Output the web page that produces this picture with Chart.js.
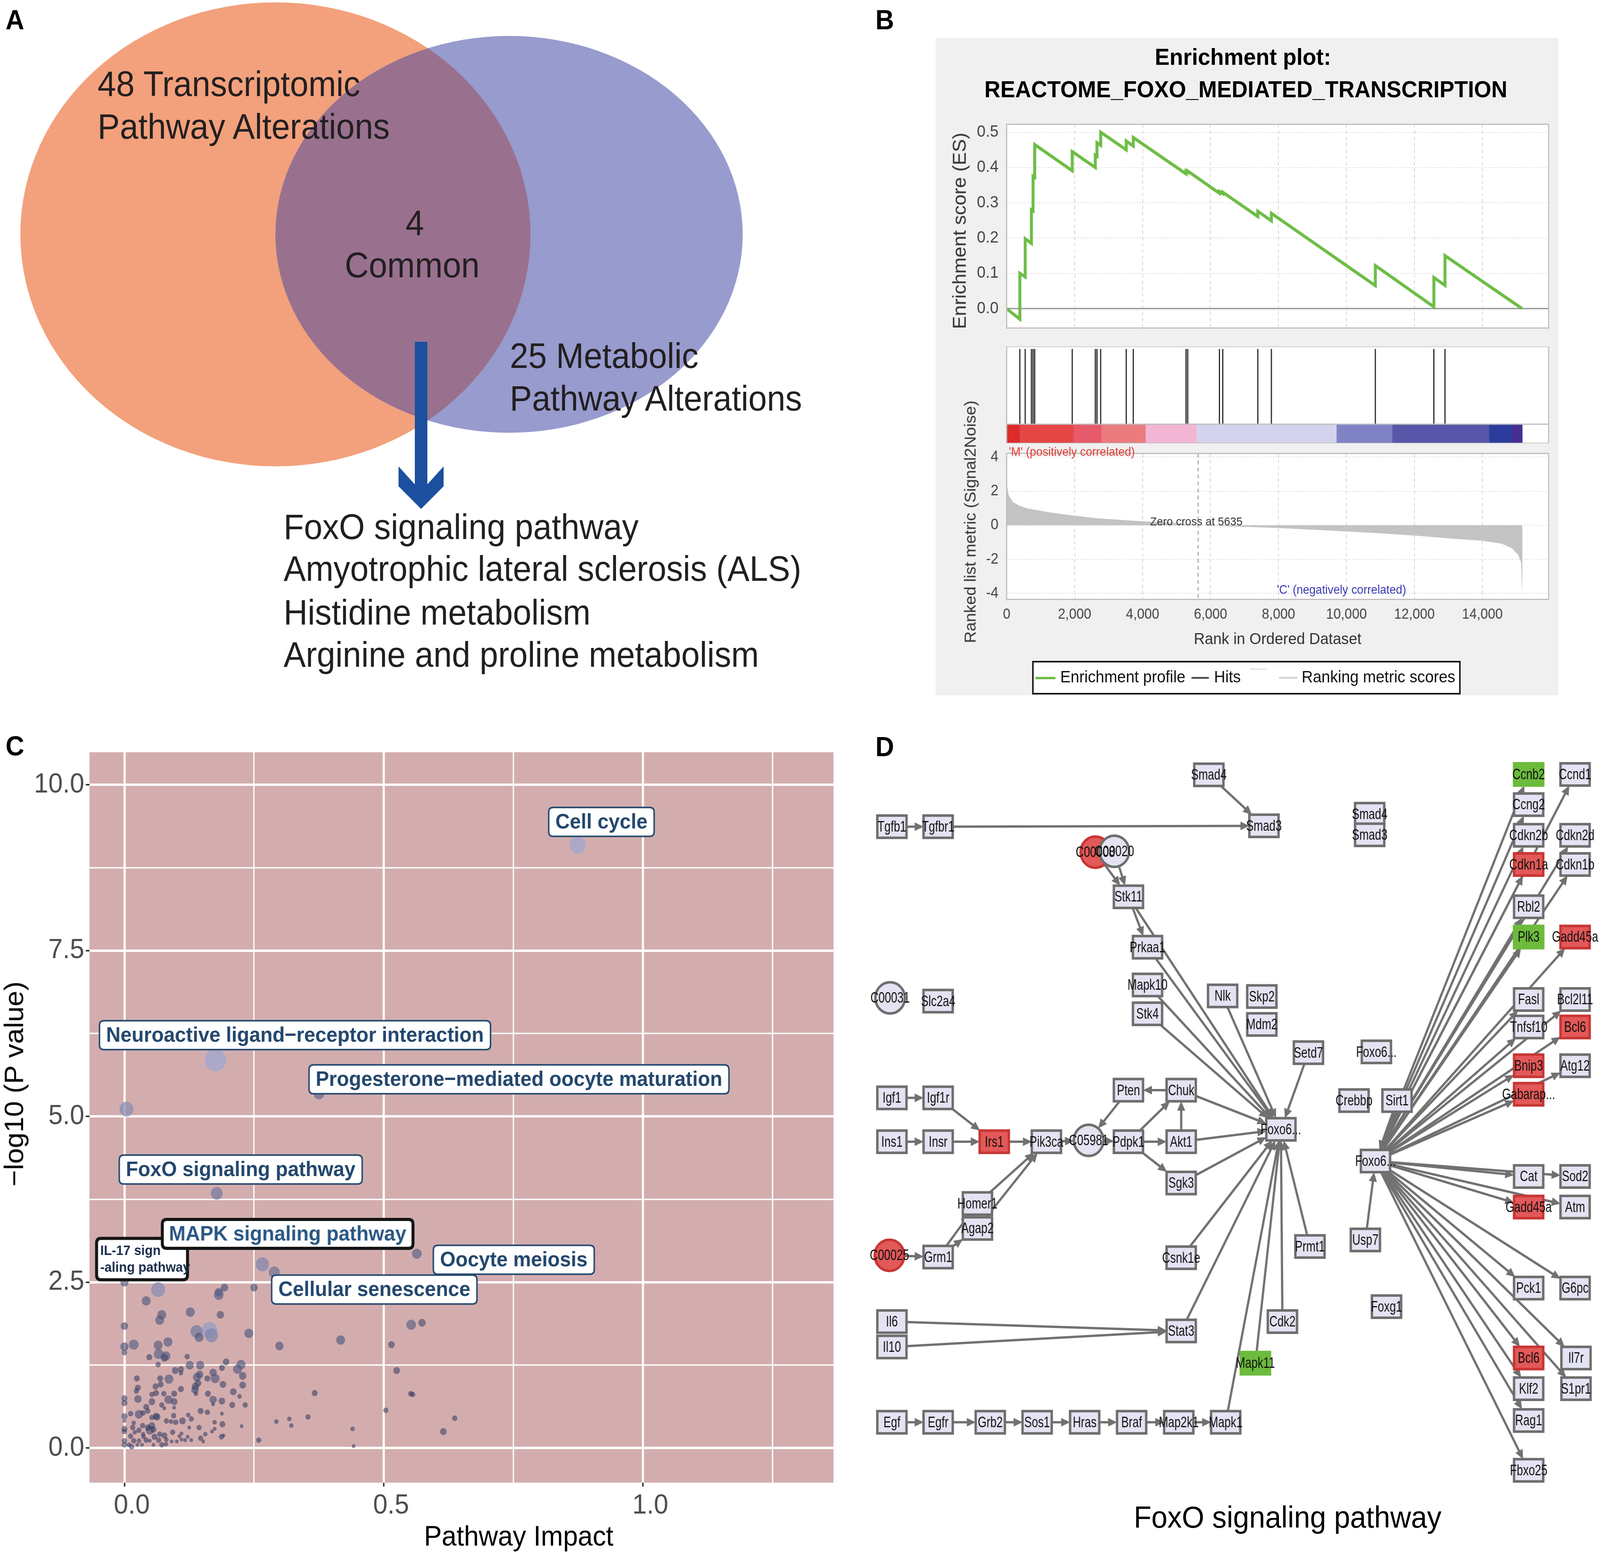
<!DOCTYPE html>
<html>
<head>
<meta charset="utf-8">
<title>FoxO pathway figure</title>
<script src="https://cdn.jsdelivr.net/npm/chart.js@4.4.1/dist/chart.umd.min.js"></script>
<style>
  html, body { margin: 0; padding: 0; background: #fff; overflow: hidden; }
  #page { position: relative; width: 4328px; height: 3976px; overflow: hidden; transform-origin: 0 0;
          font-family: "Liberation Sans", Arial, Helvetica, sans-serif; color: #231f20; }
  #page canvas { position: absolute; }
  .t { position: absolute; white-space: nowrap; line-height: 1; }
  .sw { position: absolute; }
</style>
</head>
<body>
<div id="page"></div>
<script>
// ===== Data: panel A (Venn) =====
const vennCounts = [48, 25];
const vennCommon = 4;
const commonPathways = ['FoxO signaling pathway', 'Amyotrophic lateral sclerosis (ALS)',
                        'Histidine metabolism', 'Arginine and proline metabolism'];

// ===== Data: panel B (GSEA) =====
const esRank  = [0, 388, 388, 546, 546, 728, 728, 777, 777, 825, 825, 1930, 1930, 2609, 2609,
                 2658, 2658, 2767, 2767, 3519, 3519, 3726, 3726, 5279, 5279, 5328, 5328, 6262,
                 6262, 6359, 6359, 7391, 7391, 7791, 7791, 10850, 10850, 12573, 12573, 12900,
                 12900, 15170];
const esScore = [0, -0.03, 0.10, 0.09, 0.198, 0.185, 0.28, 0.277, 0.375, 0.372, 0.465, 0.391,
                 0.445, 0.40, 0.435, 0.432, 0.47, 0.463, 0.50, 0.45, 0.475, 0.461, 0.485, 0.382,
                 0.39, 0.387, 0.39, 0.327, 0.332, 0.326, 0.33, 0.261, 0.276, 0.249, 0.27, 0.065,
                 0.122, 0.005, 0.088, 0.066, 0.15, 0];
const hitRanks = [388, 546, 728, 777, 825, 1930, 2609, 2658, 2767, 3519, 3726, 5279, 5328,
                  6262, 6359, 7391, 7791, 10850, 12573, 12900];
const rankedX = [0, 61, 182, 364, 607, 971, 1214, 1967, 2671, 3970, 4857, 5635, 7977, 9714,
                 10928, 12142, 13113, 14000, 14570, 14874, 15056, 15141, 15178];
const rankedY = [2.48, 1.76, 1.36, 1.16, 0.99, 0.86, 0.77, 0.57, 0.41, 0.24, 0.15, 0, -0.16,
                 -0.33, -0.46, -0.62, -0.78, -0.91, -1.08, -1.35, -1.74, -2.2, -4.05];
const zeroCross = 5635;
const heatStart = [0, 389, 1966, 2793, 4092, 5585, 9713, 11353, 14206, 14874];
const heatEnd   = [389, 1966, 2793, 4092, 5585, 9713, 11353, 14206, 14874, 15178];
const xTicksGsea = [0, 2000, 4000, 6000, 8000, 10000, 12000, 14000];

// ===== Data: panel C (pathway impact) =====
const impactX = [
  0.874,0.1755,0.004,0.375,0.178,0.564,0.266,0.289,0,0.065,0.042,0.193,
  0.182,0.182,0.25,0.127,0.185,0.072,0.068,0,0.164,0.168,0.139,0.144,
  0.24,0.299,0.417,0.553,0.574,0.515,0.525,0,0,0.018,0.065,0.084,
  0.066,0.08,0.077,0.048,0.121,0.065,0.126,0.146,0.196,0.225,0.218,0.188,
  0.228,0.098,0.109,0.109,0.145,0.14,0.171,0.175,0.16,0.086,0.024,0.069,
  0.19,0.228,0.07,0.142,0.137,0.136,0.06,0.026,0.023,0.109,0.21,0.138,
  0.161,0.222,0.096,0.076,0.053,0.061,0.367,0.552,0.556,0.026,0,0,
  0.085,0.096,0.053,0.042,0.171,0.188,0.208,0.233,0.171,0.096,0.072,0.077,
  0.504,0.028,0.012,0,0,0.036,0.045,0.061,0.053,0.095,0.081,0.09,
  0.099,0.112,0.123,0.129,0.147,0.16,0.188,0.174,0.189,0.226,0.293,0.318,
  0.322,0.354,0.637,0.615,0.44,0.442,0.125,0.144,0.169,0.174,0.156,0.187,
  0.191,0.147,0.152,0.129,0.117,0.11,0.259,0,0,0,0,0.014,
  0.009,0.018,0.018,0.016,0.02,0.028,0.035,0.036,0.028,0.034,0.042,0.049,
  0.053,0.045,0.058,0.056,0.063,0.066,0.072,0.08,0.077,0.068,0.081,0.093,
  0.101,0.091,0.056,0.049,0.037,0.025,0.106,0.11,0.122,0.012];
const minusLogP = [
  9.09,5.85,5.11,5.34,3.84,2.93,2.77,2.65,2.50,2.39,2.22,2.42,
  2.35,2.31,2.42,2.05,2.01,2.01,1.93,1.84,1.78,1.70,1.76,1.67,
  1.73,1.54,1.63,1.86,1.89,1.56,1.17,1.53,1.44,1.56,1.55,1.60,
  1.42,1.39,1.36,1.37,1.38,1.26,1.25,1.25,1.30,1.26,1.19,1.21,
  1.09,1.17,1.19,1.13,1.11,1.07,1.14,1.05,1.05,1.04,1.05,1.05,
  0.96,0.95,0.96,0.98,0.93,0.88,0.93,0.91,0.86,0.89,0.85,0.82,
  0.82,0.78,0.82,0.82,0.81,0.83,0.83,0.82,0.81,0.74,0.75,0.68,
  0.73,0.70,0.70,0.62,0.73,0.71,0.65,0.65,0.66,0.61,0.65,0.60,
  0.57,0.51,0.52,0.48,0.41,0.53,0.56,0.48,0.46,0.49,0.41,0.40,
  0.39,0.41,0.50,0.44,0.56,0.54,0.52,0.39,0.36,0.33,0.40,0.44,
  0.34,0.47,0.45,0.25,0.29,0.03,0.31,0.31,0.25,0.29,0.21,0.17,
  0.19,0.15,0.10,0.12,0.12,0.13,0.12,0.29,0.25,0.11,0.05,0.02,
  0.05,0.11,0.38,0.31,0.24,0.27,0.34,0.21,0.11,0.05,0.12,0.27,
  0.34,0.31,0.17,0.28,0.47,0.12,0.05,0.06,0.19,0.21,0.13,0.24,
  0.10,0.10,0.05,0.11,0.17,0.05,0.18,0.22,0.17,0.18];
const bubbleR = [
  22,29,19,14,16,13,18,15,11,19,12,10,
  11,13,10,12,10,12,12,10,21,18,16,12,
  12,11,12,13,10,9,9,11,7,13,12,12,
  13,12,10,8,7,7,11,11,9,12,12,8,
  10,9,8,6,10,11,10,12,8,12,8,8,
  9,9,8,9,10,10,8,8,7,8,9,6,
  8,6,8,7,7,8,8,7,7,10,8,8,
  11,9,9,8,10,9,8,7,5,5,7,5,
  7,11,7,8,5,7,7,9,7,7,7,6,
  7,9,6,7,8,7,5,6,8,5,6,6,
  6,7,7,9,6,5,5,7,5,5,6,7,
  5,7,5,5,5,5,7,8,7,7,7,7,
  6,7,6,7,6,7,7,6,6,5,7,11,
  9,8,8,8,9,7,7,6,8,7,6,7,
  5,5,5,5,6,5,5,5,5,7];
const pathwayLabels = ['IL-17 sign\n-aling pathway', 'Cell cycle',
  'Neuroactive ligand\u2212receptor interaction', 'Progesterone\u2212mediated oocyte maturation',
  'FoxO signaling pathway', 'MAPK signaling pathway', 'Oocyte meiosis', 'Cellular senescence'];
const labelAtX = [0.034, 0.920, 0.329, 0.761, 0.2243, 0.3148, 0.751, 0.482];
const labelAtY = [2.85, 9.44, 6.225, 5.56, 4.20, 3.23, 2.84, 2.39];

// ===== Data: panel D (FoxO network) =====
const nodeId = [
  'tgfb1','tgfbr1','smad4a','smad3a','c00008','c00020','stk11','prkaa1',
  'mapk10','stk4','nlk','skp2','mdm2','setd7','c00031','slc2a4',
  'igf1','igf1r','pten','chuk','foxoA','ins1','insr','irs1',
  'pik3ca','c05981','pdpk1','akt1','sgk3','homer1','agap2','c00025',
  'grm1','csnk1e','prmt1','il6','il10','stat3','cdk2','mapk11',
  'egf','egfr','grb2','sos1','hras','braf','map2k1','mapk1',
  'ccnb2','ccnd1','smad4b','smad3b','ccng2','cdkn2b','cdkn2d','cdkn1a',
  'cdkn1b','rbl2','plk3','gadd45aA','fasl','bcl2l11','tnfsf10','bcl6A',
  'foxoB','bnip3','atg12','gabarap','crebbp','sirt1','foxoC','cat',
  'sod2','gadd45aB','atm','usp7','pck1','g6pc','foxg1','bcl6B',
  'il7r','klf2','s1pr1','rag1','fbxo25'];
const nodeLabel = [
  'Tgfb1','Tgfbr1','Smad4','Smad3','C00008','C00020','Stk11','Prkaa1',
  'Mapk10','Stk4','Nlk','Skp2','Mdm2','Setd7','C00031','Slc2a4',
  'Igf1','Igf1r','Pten','Chuk','Foxo6...','Ins1','Insr','Irs1',
  'Pik3ca','C05981','Pdpk1','Akt1','Sgk3','Homer1','Agap2','C00025',
  'Grm1','Csnk1e','Prmt1','Il6','Il10','Stat3','Cdk2','Mapk11',
  'Egf','Egfr','Grb2','Sos1','Hras','Braf','Map2k1','Mapk1',
  'Ccnb2','Ccnd1','Smad4','Smad3','Ccng2','Cdkn2b','Cdkn2d','Cdkn1a',
  'Cdkn1b','Rbl2','Plk3','Gadd45a','Fasl','Bcl2l11','Tnfsf10','Bcl6',
  'Foxo6...','Bnip3','Atg12','Gabarap...','Crebbp','Sirt1','Foxo6...','Cat',
  'Sod2','Gadd45a','Atm','Usp7','Pck1','G6pc','Foxg1','Bcl6',
  'Il7r','Klf2','S1pr1','Rag1','Fbxo25'];
const nodeX = [
  874.2,919.5,1184.8,1238.8,1073.6,1092.2,1106,1124.7,
  1124.7,1124.7,1198.3,1236.7,1236.7,1282.4,872.4,919.5,
  874.2,919.5,1106,1157.7,1255.4,874.2,919.5,974.5,
  1025.6,1067,1106,1157.7,1157.7,958,958,871.8,
  919.5,1157.7,1283.9,874.2,874.2,1157.7,1256.9,1230.4,
  874.2,919.5,970.6,1016.5,1063.1,1109.1,1155.3,1201.3,
  1498.2,1543.7,1342.4,1342.4,1498.2,1498.2,1543.7,1498.2,
  1543.7,1498.2,1498.2,1543.7,1498.2,1543.7,1498.2,1543.7,
  1349,1498.2,1543.7,1498.2,1327.1,1369.2,1348.1,1498.2,
  1543.7,1498.2,1543.7,1338.2,1498.2,1543.7,1358.9,1498.2,
  1544.6,1498.2,1544.6,1498.2,1498.2];
const nodeY = [
  766.8,766.8,718.7,766,790.4,789.6,831.8,878.6,
  913.6,940.3,923.8,924.3,950.2,976.4,925.6,928.6,
  1018.3,1018.3,1011.2,1011.2,1047.5,1059,1059,1059,
  1059,1057.7,1059,1059,1097.3,1116.3,1139.4,1164.4,
  1166,1166.6,1156.2,1225.8,1249.4,1234.5,1225.8,1264.4,
  1319.2,1319.2,1319.2,1319.2,1319.2,1319.2,1319.2,1319.2,
  718.3,718.3,755.2,774.3,746.3,774.8,774.8,801.8,
  801.8,841.1,869.1,869.1,927.1,927.1,952.6,952.6,
  975.7,988.5,988.5,1015,1020.9,1020.9,1076.9,1091.2,
  1091.2,1119.6,1119.6,1150.1,1194.8,1194.8,1212,1259.6,
  1259.6,1288.1,1288.1,1317.6,1363.8];
const compounds     = ['c00008','c00020','c00031','c05981','c00025'];
const upRegulated   = ['c00008','c00025','irs1','cdkn1a','gadd45aA','bcl6A','bnip3','gabarap','gadd45aB','bcl6B'];
const downRegulated = ['mapk11','ccnb2','plk3'];
const foxoTargets = ['ccnb2','ccng2','cdkn2b','cdkn1a','ccnd1','cdkn2d','cdkn1b','rbl2','plk3',
  'gadd45aA','fasl','tnfsf10','bcl2l11','bcl6A','bnip3','gabarap','atg12','cat','sod2',
  'gadd45aB','atm','pck1','g6pc','bcl6B','il7r','klf2','s1pr1','rag1','fbxo25'];
const edges = [
  ['tgfb1','tgfbr1'],['tgfbr1','smad3a'],['smad4a','smad3a'],
  ['c00008','stk11'],['c00020','stk11'],['stk11','prkaa1'],['stk11','foxoA'],
  ['prkaa1','foxoA'],['mapk10','foxoA'],['stk4','foxoA'],['nlk','foxoA'],['setd7','foxoA'],
  ['chuk','foxoA'],['chuk','pten'],['pten','c05981'],
  ['igf1','igf1r'],['igf1r','irs1'],['ins1','insr'],['insr','irs1'],['irs1','pik3ca'],
  ['pik3ca','c05981'],['c05981','pdpk1'],['pdpk1','akt1'],['pdpk1','chuk'],['akt1','chuk'],
  ['akt1','foxoA'],['pdpk1','sgk3'],['sgk3','foxoA'],
  ['homer1','pik3ca'],['agap2','pik3ca'],['c00025','grm1'],['grm1','homer1'],['grm1','agap2'],
  ['csnk1e','foxoA'],['prmt1','foxoA'],['il6','stat3'],['il10','stat3'],['stat3','foxoA'],
  ['cdk2','foxoA'],['mapk11','foxoA'],['mapk1','foxoA'],
  ['egf','egfr'],['egfr','grb2'],['grb2','sos1'],['sos1','hras'],['hras','braf'],
  ['braf','map2k1'],['map2k1','mapk1'],
  ['usp7','foxoC'],['sirt1','foxoC'],
  ...foxoTargets.map(t => ['foxoC', t])
];

// ===== Setup =====
const page = document.getElementById('page');
const FONT = '"Liberation Sans", Arial, Helvetica, sans-serif';
Chart.defaults.font.family = FONT;
Chart.defaults.animation = false;
Chart.defaults.responsive = false;
Chart.defaults.plugins.legend.display = false;
Chart.defaults.plugins.tooltip.enabled = false;

// the figure is laid out at 4328x3976; squeeze it into whatever viewport we get
function fitPage() {
  const sx = Math.min(1, window.innerWidth / 4328), sy = Math.min(1, window.innerHeight / 3976);
  page.style.transform = `scale(${sx}, ${sy})`;
}
fitPage();

function canvasAt(left, top, w, h) {
  const c = document.createElement('canvas');
  c.width = w; c.height = h;
  c.style.cssText = `left:${left}px;top:${top}px;width:${w}px;height:${h}px`;
  page.appendChild(c);
  return c;
}
function block(left, top, w, h, css) {
  const d = document.createElement('div');
  d.className = 'sw';
  d.style.cssText = `left:${left}px;top:${top}px;width:${w}px;height:${h}px;${css || ''}`;
  page.appendChild(d);
  return d;
}
// yc = vertical centre of the capitals
function txt(str, x, yc, size, o = {}) {
  const d = document.createElement('div');
  d.className = 't';
  d.textContent = str;
  d.style.fontSize = size + 'px';
  d.style.fontWeight = o.bold ? 'bold' : 'normal';
  if (o.color) d.style.color = o.color;
  d.style.left = x + 'px';
  if (o.rotate) {
    d.style.top = yc + 'px';
    d.style.transform = 'translate(-50%,-50%) rotate(-90deg)';
  } else {
    d.style.top = (yc - 0.49 * size) + 'px';
    if (o.align === 'center') d.style.transform = 'translateX(-50%)';
  }
  page.appendChild(d);
  return d;
}

// ===== Panel A: Venn =====
// diagram units = pixels of the panel
const vennCx = [745, 1377], vennCy = [600, 600], vennRx = [690, 632], vennRy = [594, 508];
const vennPlugin = {
  id: 'venn',
  beforeDatasetsDraw(chart) {
    const { ctx, scales: { x, y } } = chart;
    const shape = i => {
      const cx = x.getPixelForValue(vennCx[i]), cy = y.getPixelForValue(vennCy[i]);
      ctx.beginPath();
      ctx.ellipse(cx, cy, Math.abs(x.getPixelForValue(vennCx[i] + vennRx[i]) - cx),
                  Math.abs(y.getPixelForValue(vennCy[i] + vennRy[i]) - cy), 0, 0, Math.PI * 2);
    };
    ctx.save();
    shape(0); ctx.fillStyle = '#f2a17c'; ctx.fill();
    shape(1); ctx.fillStyle = '#979bcd'; ctx.fill();
    shape(0); ctx.clip();
    shape(1); ctx.fillStyle = '#99718f'; ctx.fill();
    ctx.restore();

    // arrow from the overlap down to the list
    const P = (a, b) => [x.getPixelForValue(a), y.getPixelForValue(b)];
    const ax = 1139;
    const pts = [P(ax - 17, 875), P(ax - 17, 1240), P(ax - 61, 1194), P(ax - 61, 1245), P(ax, 1303),
                 P(ax + 61, 1245), P(ax + 61, 1194), P(ax + 17, 1240), P(ax + 17, 875)];
    ctx.save();
    ctx.fillStyle = '#1d4f9f';
    ctx.beginPath();
    pts.forEach((p, i) => i ? ctx.lineTo(p[0], p[1]) : ctx.moveTo(p[0], p[1]));
    ctx.closePath();
    ctx.fill();
    ctx.restore();
  }
};
new Chart(canvasAt(0, 0, 2300, 1800), {
  type: 'scatter',
  data: { datasets: [{ data: vennCx.map((v, i) => ({ x: v, y: vennCy[i] })), pointRadius: 0 }] },
  options: {
    devicePixelRatio: 1,
    layout: { padding: 0 },
    scales: {
      x: { type: 'linear', min: 0, max: 2300, display: false },
      y: { type: 'linear', min: 0, max: 1800, reverse: true, display: false }
    }
  },
  plugins: [vennPlugin]
});

// ===== Panel B: GSEA enrichment plot =====
block(2531, 97, 1684, 1683, 'background:#f0f0f0');
const RANK_MAX = 15950;
const GRID = '#d4d4d4';
const frame = {
  id: 'frame',
  beforeDraw(chart) {
    const { ctx, chartArea: a } = chart;
    ctx.save(); ctx.fillStyle = '#fff'; ctx.fillRect(a.left, a.top, a.width, a.height); ctx.restore();
  },
  afterDraw(chart) {
    const { ctx, chartArea: a } = chart;
    ctx.save(); ctx.strokeStyle = '#bdbdbd'; ctx.lineWidth = 3;
    ctx.strokeRect(a.left, a.top, a.width, a.height); ctx.restore();
  }
};
function gseaX(labels) {
  return {
    type: 'linear', min: 0, max: RANK_MAX,
    afterBuildTicks: s => { s.ticks = xTicksGsea.map(v => ({ value: v })); },
    ticks: { display: labels, color: '#444', font: { size: 36 }, padding: 18, maxRotation: 0,
             autoSkip: false, callback: v => v.toLocaleString('en-US') },
    grid: { color: GRID, lineWidth: 2, drawTicks: false },
    border: { display: false, dash: [9, 7] },
    afterFit: s => { s.height = labels ? 75.4 : 0; }
  };
}
const esZero = {
  id: 'esZero',
  beforeDatasetsDraw(chart) {
    const { ctx, chartArea: a, scales: { y } } = chart;
    const py = y.getPixelForValue(0);
    ctx.save(); ctx.strokeStyle = '#8c8c8c'; ctx.lineWidth = 3;
    ctx.beginPath(); ctx.moveTo(a.left, py); ctx.lineTo(a.right, py); ctx.stroke(); ctx.restore();
  }
};
new Chart(canvasAt(2560, 271, 1650, 616), {
  type: 'line',
  data: { datasets: [{ data: esRank.map((r, i) => ({ x: r, y: esScore[i] })),
                       borderColor: '#6dbd45', borderWidth: 8, pointRadius: 0, tension: 0, fill: false }] },
  options: {
    devicePixelRatio: 1,
    layout: { padding: { top: 20, right: 21, bottom: 0, left: 0 } },
    scales: {
      x: gseaX(false),
      y: { type: 'linear', min: -0.055, max: 0.5225,
           ticks: { stepSize: 0.1, includeBounds: false, color: '#444', font: { size: 42 }, padding: 22,
                    callback: v => v.toFixed(1) },
           grid: { color: GRID, lineWidth: 2, drawTicks: false },
           border: { display: false, dash: [3, 5] },
           afterFit: s => { s.width = 163; } }
    }
  },
  plugins: [frame, esZero]
});

// hits
new Chart(canvasAt(2560, 887, 1650, 199), {
  type: 'scatter',
  data: { datasets: hitRanks.map(r => ({ data: [{ x: r, y: 0 }, { x: r, y: 1 }], showLine: true,
                                          borderColor: '#1a1a1a', borderWidth: 3, pointRadius: 0 })) },
  options: {
    devicePixelRatio: 1,
    layout: { padding: { top: 0, right: 21, bottom: 0, left: 163 } },
    scales: {
      x: { type: 'linear', min: 0, max: RANK_MAX, display: false },
      y: { type: 'linear', min: 0, max: 1.033, display: false }
    }
  },
  plugins: [frame]
});

// coloured rank bar
new Chart(canvasAt(2560, 1086, 1650, 49), {
  type: 'bar',
  data: { labels: ['rank'],
          datasets: [{ data: heatStart.map((s, i) => ({ x: [s, heatEnd[i]], y: 'rank' })),
                       backgroundColor: ['#dc2b2b','#e44646','#e65a6a','#ec7b7e','#f2b6d4','#d3d3ee',
                                         '#7f83c6','#5856a8','#2b3c9c','#472d92'],
                       borderWidth: 0, barPercentage: 1, categoryPercentage: 1, grouped: false }] },
  options: {
    indexAxis: 'y',
    devicePixelRatio: 1,
    layout: { padding: { top: 0, right: 21, bottom: 0, left: 163 } },
    scales: {
      x: { type: 'linear', min: 0, max: RANK_MAX, display: false },
      y: { type: 'category', display: false }
    }
  },
  plugins: [frame]
});

// ranked list metric
const zeroCrossLine = {
  id: 'zeroCross',
  afterDatasetsDraw(chart) {
    const { ctx, chartArea: a, scales: { x } } = chart;
    const px = x.getPixelForValue(zeroCross);
    ctx.save(); ctx.strokeStyle = '#8a8a8a'; ctx.lineWidth = 2; ctx.setLineDash([10, 8]);
    ctx.beginPath(); ctx.moveTo(px, a.top); ctx.lineTo(px, a.bottom); ctx.stroke(); ctx.restore();
  }
};
new Chart(canvasAt(2560, 1116, 1650, 494), {
  type: 'line',
  data: { datasets: [{ data: rankedX.map((v, i) => ({ x: v, y: rankedY[i] })),
                       borderWidth: 0, borderColor: 'rgba(0,0,0,0)', backgroundColor: '#c3c3c3',
                       fill: 'origin', pointRadius: 0, tension: 0 }] },
  options: {
    devicePixelRatio: 1,
    layout: { padding: { top: 20.6, right: 21, bottom: 0, left: 0 } },
    scales: {
      x: gseaX(true),
      y: { type: 'linear', min: -4.35, max: 4.22,
           ticks: { stepSize: 2, includeBounds: false, color: '#444', font: { size: 38 }, padding: 22,
                    callback: v => String(v) },
           grid: { color: GRID, lineWidth: 2, drawTicks: false },
           border: { display: false, dash: [3, 5] },
           afterFit: s => { s.width = 163; } }
    }
  },
  plugins: [frame, zeroCrossLine]
});

// ===== Panel C: pathway impact =====
const isMajor = (v, step) => Math.abs(v / step - Math.round(v / step)) < 1e-6;
function bubbleColor(r) {
  const t = Math.max(0, Math.min(1, (r - 8) / 14));
  const c0 = [45, 55, 95], c1 = [162, 167, 206];
  const c = c0.map((v, i) => Math.round(v + (c1[i] - v) * t));
  return `rgba(${c[0]},${c[1]},${c[2]},${(0.55 + 0.27 * t).toFixed(2)})`;
}
const pinkPanel = {
  id: 'pinkPanel',
  beforeDraw(chart) {
    const { ctx, chartArea: a } = chart;
    ctx.save(); ctx.fillStyle = '#d3adad'; ctx.fillRect(a.left, a.top, a.width, a.height); ctx.restore();
  }
};
function roundRect(ctx, x, y, w, h, r) {
  ctx.beginPath();
  ctx.moveTo(x + r, y); ctx.lineTo(x + w - r, y); ctx.quadraticCurveTo(x + w, y, x + w, y + r);
  ctx.lineTo(x + w, y + h - r); ctx.quadraticCurveTo(x + w, y + h, x + w - r, y + h);
  ctx.lineTo(x + r, y + h); ctx.quadraticCurveTo(x, y + h, x, y + h - r);
  ctx.lineTo(x, y + r); ctx.quadraticCurveTo(x, y, x + r, y);
  ctx.closePath();
}
const pathwayTags = {
  id: 'pathwayTags',
  afterDatasetsDraw(chart) {
    const { ctx, scales: { x, y } } = chart;
    ctx.save();
    pathwayLabels.forEach((lab, i) => {
      const cx = x.getPixelForValue(labelAtX[i]), cy = y.getPixelForValue(labelAtY[i]);
      const heavy = lab.startsWith('MAPK') || lab.startsWith('IL-17');
      if (lab.includes('\n')) {
        const w = 246, h = 106, lx = cx - w / 2, ly = cy - h / 2;
        roundRect(ctx, lx, ly, w, h, 12);
        ctx.fillStyle = '#fff'; ctx.fill();
        ctx.lineWidth = 8; ctx.strokeStyle = '#151515'; ctx.stroke();
        ctx.font = 'bold 35px ' + FONT; ctx.fillStyle = '#1b2c4c';
        ctx.textAlign = 'left'; ctx.textBaseline = 'middle';
        lab.split('\n').forEach((s, k) => ctx.fillText(s, lx + 10, ly + 33 + k * 43));
        return;
      }
      ctx.font = 'bold 54px ' + FONT;
      const tw = ctx.measureText(lab).width;
      const w = tw + 36, h = 74;
      roundRect(ctx, cx - w / 2, cy - h / 2, w, h, 12);
      ctx.fillStyle = '#fff'; ctx.fill();
      ctx.lineWidth = heavy ? 8 : 4; ctx.strokeStyle = heavy ? '#151515' : '#24496f'; ctx.stroke();
      ctx.fillStyle = heavy ? '#2b5885' : '#23476d';
      ctx.textAlign = 'center'; ctx.textBaseline = 'middle';
      ctx.fillText(lab, cx, cy + 2);
    });
    ctx.restore();
  }
};
new Chart(canvasAt(0, 1880, 2300, 2080), {
  type: 'bubble',
  data: { datasets: [{ data: impactX.map((v, i) => ({ x: v, y: minusLogP[i], r: bubbleR[i] })),
                       backgroundColor: c => bubbleColor(c.raw ? c.raw.r : 8), borderWidth: 0 }] },
  options: {
    devicePixelRatio: 1,
    layout: { padding: { top: 33.7, right: 45.4, bottom: 0, left: 0 } },
    scales: {
      x: { type: 'linear', min: -0.0674, max: 1.3676,
           ticks: { stepSize: 0.25, includeBounds: false, autoSkip: false, maxRotation: 0,
                    color: '#4d4d4d', font: { size: 70 }, padding: 8, labelOffset: 20,
                    callback: v => isMajor(v, 0.5) ? v.toFixed(1) : '' },
           grid: { color: '#ffffff', lineWidth: c => isMajor(c.tick.value, 0.5) ? 6 : 3.5,
                   tickColor: c => isMajor(c.tick.value, 0.5) ? '#333' : 'rgba(0,0,0,0)',
                   tickLength: 10, tickWidth: 4 },
           border: { display: false },
           afterFit: s => { s.height = 164.2; } },
      y: { type: 'linear', min: -0.52, max: 10.49,
           ticks: { stepSize: 1.25, includeBounds: false, autoSkip: false,
                    color: '#4d4d4d', font: { size: 70 }, padding: 4,
                    callback: v => isMajor(v, 2.5) ? v.toFixed(1) : '' },
           grid: { color: '#ffffff', lineWidth: c => isMajor(c.tick.value, 2.5) ? 6 : 3.5,
                   tickColor: c => isMajor(c.tick.value, 2.5) ? '#333' : 'rgba(0,0,0,0)',
                   tickLength: 10, tickWidth: 4 },
           border: { display: false },
           afterFit: s => { s.width = 242; } }
    }
  },
  plugins: [pinkPanel, pathwayTags]
});

// ===== Panel D: FoxO signalling network =====
const BOX_W = 79, BOX_H = 57, DOT_R = 40, EDGE = '#717171';
function edgeTo(ctx, a, b, toDot) {
  const dx = b.x - a.x, dy = b.y - a.y, len = Math.hypot(dx, dy);
  if (!len) return;
  const t = toDot ? DOT_R / len
                  : Math.min((BOX_W / 2) / Math.max(Math.abs(dx), 1e-6), (BOX_H / 2) / Math.max(Math.abs(dy), 1e-6));
  const ex = b.x - dx * t, ey = b.y - dy * t;
  const ux = dx / len, uy = dy / len, L = 24, W = 11;
  ctx.beginPath(); ctx.moveTo(a.x, a.y); ctx.lineTo(ex - ux * 8, ey - uy * 8); ctx.stroke();
  ctx.beginPath();
  ctx.moveTo(ex, ey);
  ctx.lineTo(ex - ux * L - uy * W, ey - uy * L + ux * W);
  ctx.lineTo(ex - ux * L + uy * W, ey - uy * L - ux * W);
  ctx.closePath(); ctx.fill();
}
const network = {
  id: 'network',
  afterDatasetsDraw(chart) {
    const ctx = chart.ctx;
    const pts = chart.getDatasetMeta(0).data;
    const pos = {};
    nodeId.forEach((id, i) => { pos[id] = { x: pts[i].x, y: pts[i].y }; });
    ctx.save();
    ctx.strokeStyle = EDGE; ctx.fillStyle = EDGE; ctx.lineWidth = 6;
    edges.forEach(([a, b]) => edgeTo(ctx, pos[a], pos[b], compounds.includes(b)));
    nodeId.forEach((id, i) => {
      const { x, y } = pts[i];
      const up = upRegulated.includes(id), down = downRegulated.includes(id);
      ctx.fillStyle = up ? '#e35858' : down ? '#6cbb3c' : '#e3e3f3';
      ctx.strokeStyle = up ? '#c73634' : down ? '#6cbb3c' : '#6e6e6e';
      ctx.lineWidth = 6.5;
      ctx.beginPath();
      if (compounds.includes(id)) ctx.arc(x, y, DOT_R, 0, Math.PI * 2);
      else ctx.rect(x - BOX_W / 2, y - BOX_H / 2, BOX_W, BOX_H);
      ctx.fill(); ctx.stroke();
    });
    ctx.fillStyle = '#111'; ctx.textAlign = 'center'; ctx.textBaseline = 'middle';
    ctx.font = '38px ' + FONT;
    nodeId.forEach((id, i) => {
      ctx.save();
      ctx.translate(pts[i].x, pts[i].y + 2);
      ctx.scale(0.8, 1);
      ctx.fillText(nodeLabel[i], 0, 0);
      ctx.restore();
    });
    ctx.restore();
  }
};
new Chart(canvasAt(2332, 1880, 1996, 2096), {
  type: 'scatter',
  data: { datasets: [{ data: nodeX.map((v, i) => ({ x: v, y: nodeY[i] })), pointRadius: 0 }] },
  options: {
    devicePixelRatio: 1,
    layout: { padding: 0 },
    scales: {
      x: { type: 'linear', min: 845, max: 1568.14, display: false },
      y: { type: 'linear', min: 681.1, max: 1440.5, reverse: true, display: false }
    }
  },
  plugins: [network]
});

// ===== Text =====
// panel letters
txt('A', 15, 50, 70, { bold: true, color: '#000' });
txt('B', 2368, 50, 70, { bold: true, color: '#000' });
txt('C', 15, 1909, 70, { bold: true, color: '#000' });
txt('D', 2368, 1911, 70, { bold: true, color: '#000' });

// panel A
txt(vennCounts[0] + ' Transcriptomic', 264, 214, 90);
txt('Pathway Alterations', 264, 323, 90);
txt(String(vennCommon), 1122, 570, 90, { align: 'center' });
txt('Common', 1115, 678, 90, { align: 'center' });
txt(vennCounts[1] + ' Metabolic', 1379, 910, 90);
txt('Pathway Alterations', 1379, 1019, 90);
[1348, 1455, 1567, 1675].forEach((yc, i) => txt(commonPathways[i], 767, yc, 90));

// panel B
txt('Enrichment plot:', 3362, 145, 60, { bold: true, color: '#000', align: 'center' });
txt('REACTOME_FOXO_MEDIATED_TRANSCRIPTION', 3370, 228, 60, { bold: true, color: '#000', align: 'center' });
txt('Enrichment score (ES)', 2595, 591, 50, { rotate: true, color: '#333' });
txt('Ranked list metric (Signal2Noise)', 2625, 1336, 42, { rotate: true, color: '#333' });
txt('Rank in Ordered Dataset', 3456, 1635, 41, { align: 'center', color: '#333' });
txt("'M' (positively correlated)", 2729, 1156, 31, { color: '#e33c36' });
txt('Zero cross at ' + zeroCross, 3236, 1335, 30, { align: 'center', color: '#333' });
txt("'C' (negatively correlated)", 3454, 1509, 31, { color: '#3a3ab2' });
block(2792, 1692, 1159, 86, 'border:4px solid #111;background:#fff;box-sizing:border-box');
block(2801, 1733, 54, 6, 'background:#6dbd45');
block(3223, 1733, 47, 5, 'background:#555');
block(3382, 1711, 44, 4, 'background:#e6e6e6');
block(3460, 1733, 50, 5, 'background:#d4d4d4');
txt('Enrichment profile', 2868, 1733, 42, { color: '#111' });
txt('Hits', 3284, 1733, 42, { color: '#111' });
txt('Ranking metric scores', 3521, 1733, 42, { color: '#111' });

// panel C
txt('Pathway Impact', 1403, 3931, 72, { align: 'center', color: '#000' });
txt('\u2212log10 (P value)', 37, 2775, 72, { rotate: true, color: '#000' });

// panel D
txt('FoxO signaling pathway', 3483, 3883, 78, { align: 'center', color: '#000' });
</script>
</body>
</html>
